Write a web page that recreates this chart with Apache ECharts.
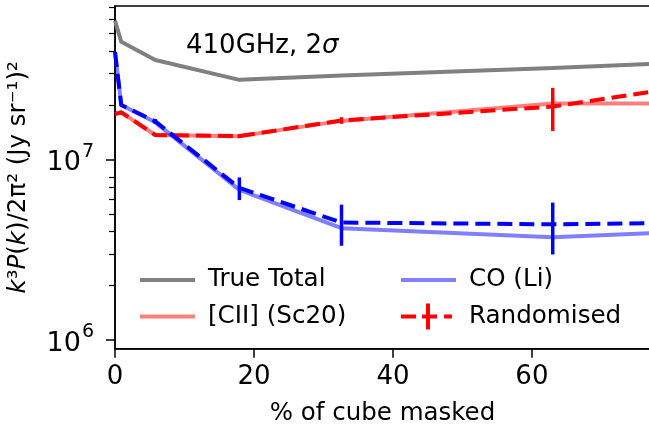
<!DOCTYPE html>
<html><head><meta charset="utf-8">
<script src="https://cdn.jsdelivr.net/npm/echarts@6/dist/echarts.min.js"></script>
<style>html,body{margin:0;padding:0;background:#fff}#c{width:649px;height:432px}</style>
</head><body><div id="c"></div>
<script>
// ---- data ----
const maskedPct   = [0, 0.9, 5.8, 17.9, 32.6, 63.0, 88.0];
const trueTotal   = [5.9e7, 4.5e7, 3.57e7, 2.77e7, 2.93e7, 3.22e7, 3.53e7];
const ciiSc20     = [1.79e7, 1.83e7, 1.37e7, 1.35e7, 1.64e7, 2.05e7, 2.05e7];
const coLi        = [3.95e7, 2.01e7, 1.61e7, 6.8e6, 4.17e6, 3.71e6, 4.08e6];
const randCii     = [1.79e7, 1.83e7, 1.37e7, 1.35e7, 1.65e7, 1.97e7, 2.75e7];
const randCiiErr  = [0, 0, 0, 3.5e5, 7e5, 5.3e6, 0];
const randCo      = [3.95e7, 2.01e7, 1.63e7, 6.97e6, 4.48e6, 4.38e6, 4.49e6];
const randCoErr   = [0, 0, 5e5, 1.0e6, 1.15e6, 1.4e6, 0];
const xTicks      = [0, 20, 40, 60];
const yMajorTicks = [1e6, 1e7];
const yMinorTicks = [2e6,3e6,4e6,5e6,6e6,7e6,8e6,2e7,3e7,4e7,5e7,6e7,7e7];

const FONT = 'DejaVu Sans';
const chart = echarts.init(document.getElementById('c'), null, {renderer:'canvas'});

const pair = (ys) => maskedPct.map((x, i) => [x, ys[i]]);
const triple = (ys, es) => maskedPct.map((x, i) => [x, ys[i], es[i]]);

function errRender(color) {
  return function (params, api) {
    const x = api.value(0), y = api.value(1), e = api.value(2);
    if (!e) return null;
    const p1 = api.coord([x, y - e]), p2 = api.coord([x, y + e]);
    return {type:'line', shape:{x1:p1[0], y1:p1[1], x2:p2[0], y2:p2[1]},
            style:{stroke:color, lineWidth:3.5}};
  };
}

const lineIcon = 'path://M0,0h0.05v0.05h-0.05z M0,11h55v4h-55z M54.95,25.95h0.05v0.05h-0.05z';
const randIcon = 'path://M0,0h0.05v0.05h-0.05z M0,11h15v4h-15z M21,11h15v4h-15z M43,11h8v4h-8z M25,0h4v26h-4z M54.95,25.95h0.05v0.05h-0.05z';

const legendCommon = {
  orient:'vertical', itemWidth:55, itemHeight:26, itemGap:10.4, selectedMode:false,
  textStyle:{fontFamily:FONT, fontSize:24.6, color:'#000', padding:[0,0,0,8]}
};

const option = {
  animation:false,
  backgroundColor:'#fff',
  grid:{left:115, top:6, width:535, height:342.7, show:true, borderColor:'#000',
        borderWidth:1.5, backgroundColor:'transparent', outerBoundsMode:'none'},
  legend:[
    Object.assign({left:135, top:262, data:[{name:'True Total', icon:lineIcon},
                                            {name:'[CII] (Sc20)', icon:lineIcon}]}, legendCommon),
    Object.assign({left:396, top:262, data:[{name:'CO (Li)', icon:lineIcon},
                                            {name:'Randomised', icon:randIcon}]}, legendCommon)
  ],
  xAxis:{
    type:'value', min:0, max:77,
    axisLine:{show:true, lineStyle:{color:'#000', width:1.5}},
    axisTick:{show:true, length:9, customValues:xTicks, lineStyle:{color:'#000', width:1.5}},
    axisLabel:{customValues:xTicks, fontFamily:FONT, fontSize:26, color:'#000', margin:16},
    splitLine:{show:false},
    name:'% of cube masked', nameLocation:'middle', nameGap:52,
    nameTextStyle:{fontFamily:FONT, fontSize:24.5, color:'#000'}
  },
  yAxis:[{
    type:'log', logBase:10, min:8.95e5, max:7.11e7,
    axisLine:{show:true, lineStyle:{color:'#000', width:1.5}},
    axisTick:{show:true, length:9, customValues:yMajorTicks, lineStyle:{color:'#000', width:1.5}},
    axisLabel:{customValues:yMajorTicks, margin:21, color:'#000',
      formatter:(v) => '{b|10}{s|' + Math.round(Math.log10(v)) + '}',
      rich:{b:{fontFamily:FONT, fontSize:27, color:'#000', lineHeight:34, verticalAlign:'bottom'},
            s:{fontFamily:FONT, fontSize:19, color:'#000', lineHeight:34, verticalAlign:'top', padding:[0,0,0,1]}}},
    splitLine:{show:false}, minorTick:{show:false},
    name:'{i|k}³{i|P}({i|k})/2π² (Jy sr⁻¹)²', nameLocation:'middle', nameGap:84,
    nameTextStyle:{fontFamily:FONT, fontSize:24.5, color:'#000',
      rich:{i:{fontFamily:FONT, fontSize:24.5, fontStyle:'italic', color:'#000'}}}
  },{
    type:'log', logBase:10, min:8.95e5, max:7.11e7, position:'left',
    axisLine:{show:false},
    axisTick:{show:true, length:6, customValues:yMinorTicks, lineStyle:{color:'#000', width:1.2}},
    axisLabel:{show:false}, splitLine:{show:false}
  }],
  graphic:[{
    type:'text', left:186, top:33,
    style:{text:'410GHz, 2{i|σ}', fontFamily:FONT, fontSize:26, fill:'#000',
      rich:{i:{fontFamily:FONT, fontSize:26, fontStyle:'italic', fill:'#000'}}}
  }],
  series:[
    {name:'True Total', type:'line', data:pair(trueTotal), showSymbol:false, symbol:'none',
     color:'#808080', lineStyle:{color:'#808080', width:4, join:'round'}, z:2},
    {name:'[CII] (Sc20)', type:'line', data:pair(ciiSc20), showSymbol:false, symbol:'none',
     color:'rgba(255,0,0,0.5)', lineStyle:{color:'rgba(255,0,0,0.5)', width:4, join:'round'}, z:3},
    {name:'CO (Li)', type:'line', data:pair(coLi), showSymbol:false, symbol:'none',
     color:'rgba(0,0,255,0.5)', lineStyle:{color:'rgba(0,0,255,0.5)', width:4, join:'round'}, z:4},
    {name:'Randomised', type:'line', data:pair(randCii), showSymbol:false, symbol:'none',
     color:'#ff0000', lineStyle:{color:'#ff0000', width:4, type:[15,7], join:'round'}, z:5},
    {name:'Randomised err', type:'custom', data:triple(randCii, randCiiErr),
     renderItem:errRender('#ff0000'), encode:{x:0, y:1}, z:6},
    {name:'Randomised CO', type:'line', data:pair(randCo), showSymbol:false, symbol:'none',
     color:'#0000ff', lineStyle:{color:'#0000ff', width:4, type:[15,7], join:'round'}, z:7},
    {name:'Randomised CO err', type:'custom', data:triple(randCo, randCoErr),
     renderItem:errRender('#0000ff'), encode:{x:0, y:1}, z:8}
  ]
};
chart.setOption(option);
</script>
</body></html>
